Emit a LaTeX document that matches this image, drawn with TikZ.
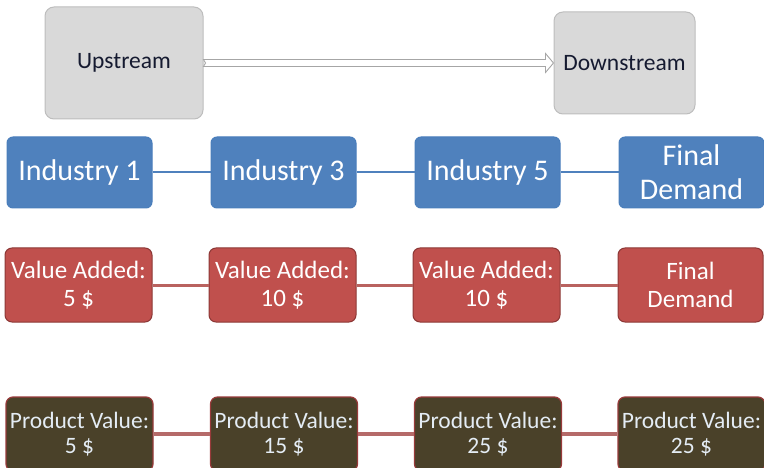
\documentclass[tikz,border=0pt]{standalone}
\usepackage{fontspec}
\setmainfont{Carlito}
\usetikzlibrary{calc}
\definecolor{gbox}{HTML}{D9D9D9}
\definecolor{gline}{HTML}{BDBDBD}
\definecolor{garrow}{HTML}{A6A6A6}
\definecolor{gtext}{HTML}{151A30}
\definecolor{bfill}{HTML}{4F81BD}
\definecolor{bline}{HTML}{4A7EBB}
\definecolor{rfill}{HTML}{C0504D}
\definecolor{rline}{HTML}{8C3836}
\definecolor{rconn}{HTML}{B9625F}
\definecolor{ofill}{HTML}{4A4129}
\definecolor{oline}{HTML}{983A3A}
\definecolor{oconn}{HTML}{B56A69}
\definecolor{otext}{HTML}{E4ECF4}
\tikzset{
  graybox/.style={draw=gline, fill=gbox, line width=1pt, rounded corners=9pt,
    inner sep=0pt, text=gtext, font=\fontsize{23.5}{28}\selectfont},
  bluebox/.style={draw=bline, fill=bfill, line width=1pt, rounded corners=6pt,
    inner sep=0pt, text=white, align=center, minimum width=145pt, minimum height=71pt,
    font=\fontsize{30}{34}\selectfont},
  redbox/.style={draw=rline, fill=rfill, line width=1pt, rounded corners=7pt,
    inner sep=0pt, text=white, align=center, minimum width=147pt, minimum height=74pt,
    font=\fontsize{25}{28}\selectfont},
  olivebox/.style={draw=oline, fill=ofill, line width=1.2pt, rounded corners=7pt,
    inner sep=0pt, text=otext, align=center, minimum width=147pt, minimum height=74pt,
    font=\fontsize{23.5}{25}\selectfont},
  blueconn/.style={draw=bfill, line width=2pt},
  redconn/.style={draw=rconn, line width=3pt},
  oliveconn/.style={draw=oconn, line width=3.5pt},
  blockarrow/.style={draw=garrow, fill=white, line width=0.9pt, line join=miter},
}
\begin{document}
\begin{tikzpicture}[x=1pt, y=-1pt]
\useasboundingbox (0,0) rectangle (764,468);
\begin{scope}
\clip (0,0) rectangle (764,468);
% top row
\node[graybox, minimum width=158pt, minimum height=112pt] (up) at (124,63) {Upstream};
\node[graybox, minimum width=141pt, minimum height=102pt] (down) at (624.5,63) {Downstream};
\draw[blockarrow]
  ($(up.east)+(0,-3.5)$) -- ($(down.west)+(-8,-3.5)$) -- ($(down.west)+(-8,-9.5)$)
  -- (down.west) -- ($(down.west)+(-8,9.5)$) -- ($(down.west)+(-8,3.5)$)
  -- ($(up.east)+(0,3.5)$) -- ($(up.east)+(2,0)$) -- cycle;
% blue row
\node[bluebox] (b1) at (79.5,172.5) {Industry 1};
\node[bluebox] (b3) at (283.5,172.5) {Industry 3};
\node[bluebox] (b5) at (487.5,172.5) {Industry 5};
\node[bluebox] (bf) at (691.5,172.5) {Final\\Demand};
\draw[blueconn] (b1) -- (b3);
\draw[blueconn] (b3) -- (b5);
\draw[blueconn] (b5) -- (bf);
% red row
\node[redbox] (r1) at (78.5,285) {Value Added:\\5 \$};
\node[redbox] (r3) at (282.5,285) {Value Added:\\10 \$};
\node[redbox] (r5) at (486.5,285) {Value Added:\\10 \$};
\node[redbox, minimum width=145pt] (rf) at (690.5,285) {Final\\Demand};
\draw[redconn] (r1) -- (r3);
\draw[redconn] (r3) -- (r5);
\draw[redconn] (r5) -- (rf);
% olive row
\node[olivebox] (o1) at (79.5,434) {Product Value:\\5 \$};
\node[olivebox] (o3) at (284,434) {Product Value:\\15 \$};
\node[olivebox] (o5) at (488,434) {Product Value:\\25 \$};
\node[olivebox] (of) at (691.5,434) {Product Value:\\25 \$};
\draw[oliveconn] (o1) -- (o3);
\draw[oliveconn] (o3) -- (o5);
\draw[oliveconn] (o5) -- (of);
\end{scope}
\end{tikzpicture}
\end{document}
